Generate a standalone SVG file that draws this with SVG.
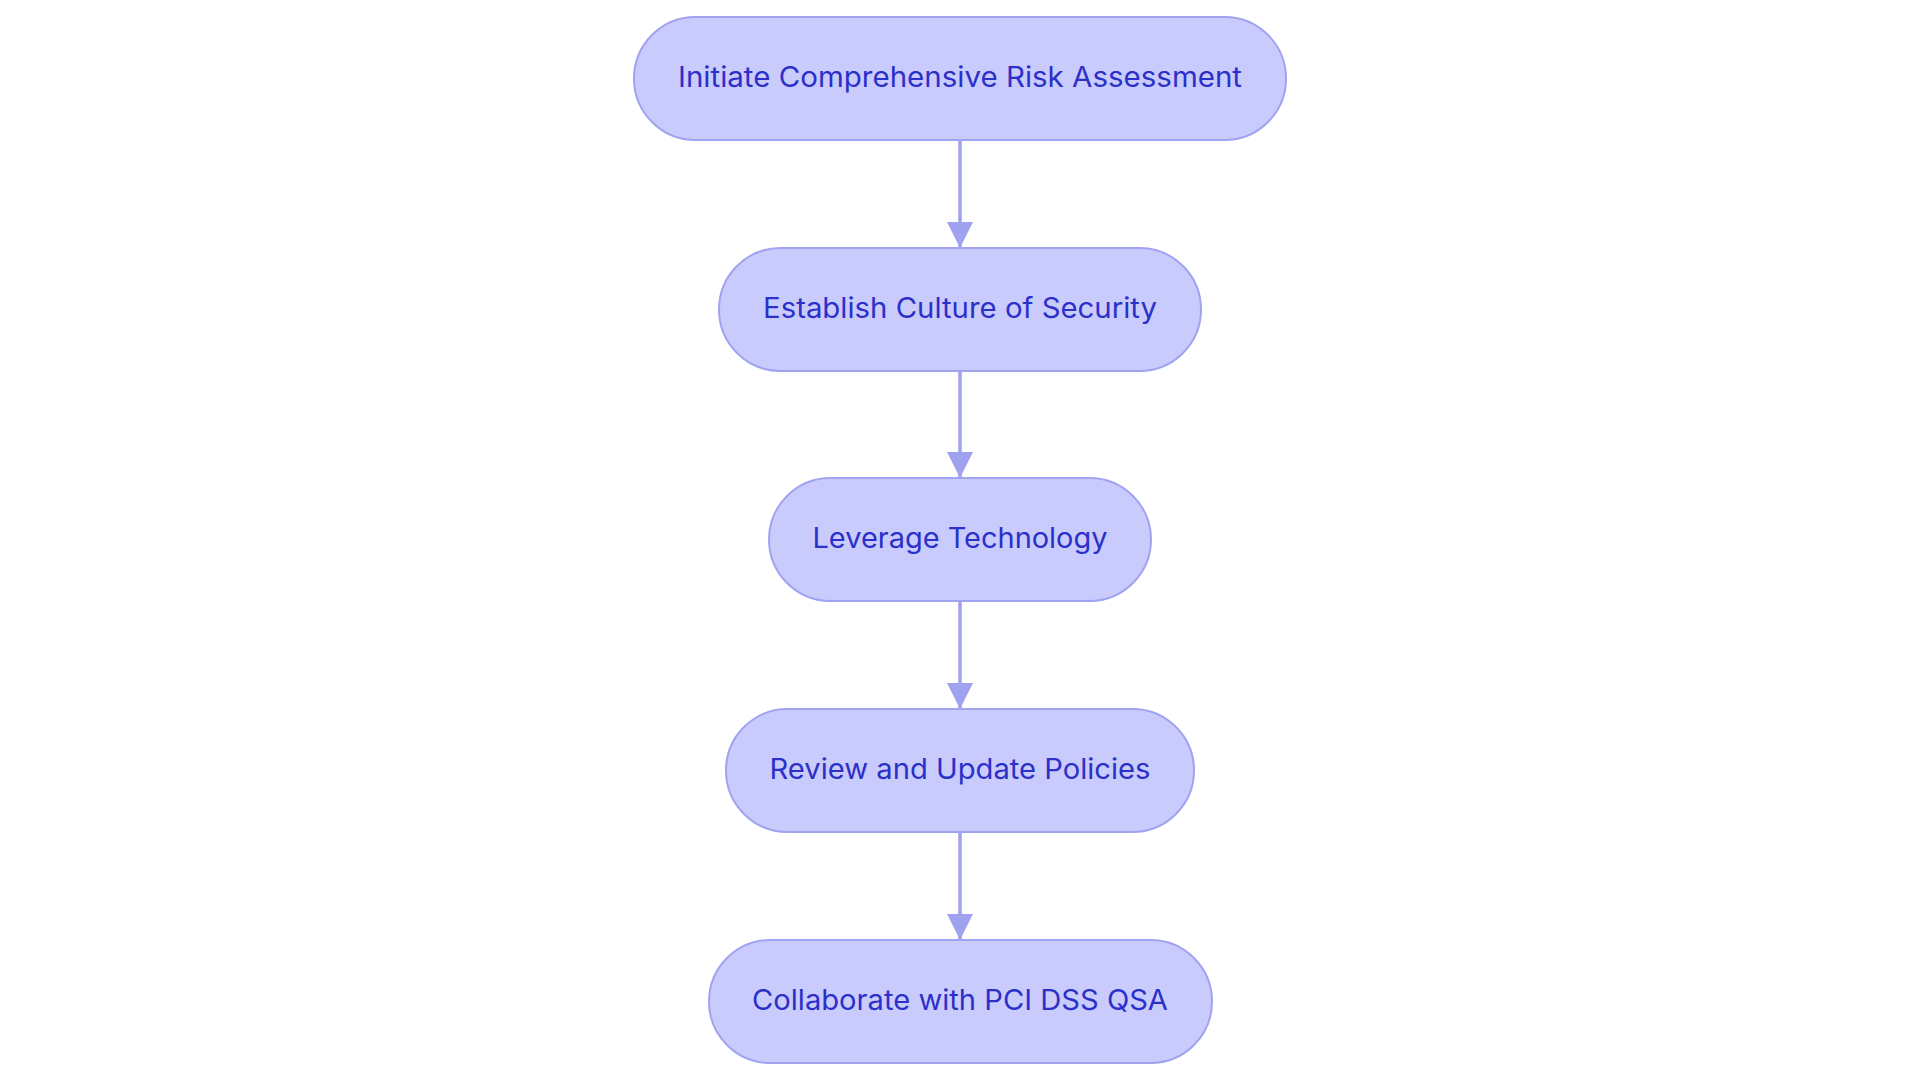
<svg xmlns="http://www.w3.org/2000/svg" width="1920" height="1083" viewBox="0 0 1920 1083">
<defs>
<style>
.node rect{fill:#CACBFD;stroke:#9FA3F0;stroke-width:2}
.node text{fill:#2B30C9;font-family:Inter,"Noto Sans","Liberation Sans",sans-serif;font-size:28px;text-anchor:middle}
.edge{stroke:#9FA2EE;stroke-width:3.5;fill:none}
</style>
<marker id="arrow" markerUnits="userSpaceOnUse" markerWidth="28" markerHeight="28" refX="26" refY="13" orient="auto">
<path d="M0,0 L26,13 L0,26 Z" fill="#9FA2EE"/>
</marker>
</defs>
<rect width="1920" height="1083" fill="#FFFFFF"/>
<g id="connectors">
<line class="edge" x1="960" y1="140" x2="960" y2="248" marker-end="url(#arrow)"/>
<line class="edge" x1="960" y1="371" x2="960" y2="478" marker-end="url(#arrow)"/>
<line class="edge" x1="960" y1="601" x2="960" y2="709" marker-end="url(#arrow)"/>
<line class="edge" x1="960" y1="832" x2="960" y2="940" marker-end="url(#arrow)"/>
</g>
<g id="node1" class="node">
<rect x="634" y="17" width="652" height="123" rx="61.5" ry="61.5"/>
<text x="960" y="86.5" textLength="564" lengthAdjust="spacingAndGlyphs">Initiate Comprehensive Risk Assessment</text>
</g>
<g id="node2" class="node">
<rect x="719" y="248" width="482" height="123" rx="61.5" ry="61.5"/>
<text x="960" y="317.5" textLength="394" lengthAdjust="spacingAndGlyphs">Establish Culture of Security</text>
</g>
<g id="node3" class="node">
<rect x="769" y="478" width="382" height="123" rx="61.5" ry="61.5"/>
<text x="960" y="547.5" textLength="295" lengthAdjust="spacingAndGlyphs">Leverage Technology</text>
</g>
<g id="node4" class="node">
<rect x="726" y="709" width="468" height="123" rx="61.5" ry="61.5"/>
<text x="960" y="778.5" textLength="381" lengthAdjust="spacingAndGlyphs">Review and Update Policies</text>
</g>
<g id="node5" class="node">
<rect x="709" y="940" width="503" height="123" rx="61.5" ry="61.5"/>
<text x="960" y="1009.5" textLength="416" lengthAdjust="spacingAndGlyphs">Collaborate with PCI DSS QSA</text>
</g>
</svg>
